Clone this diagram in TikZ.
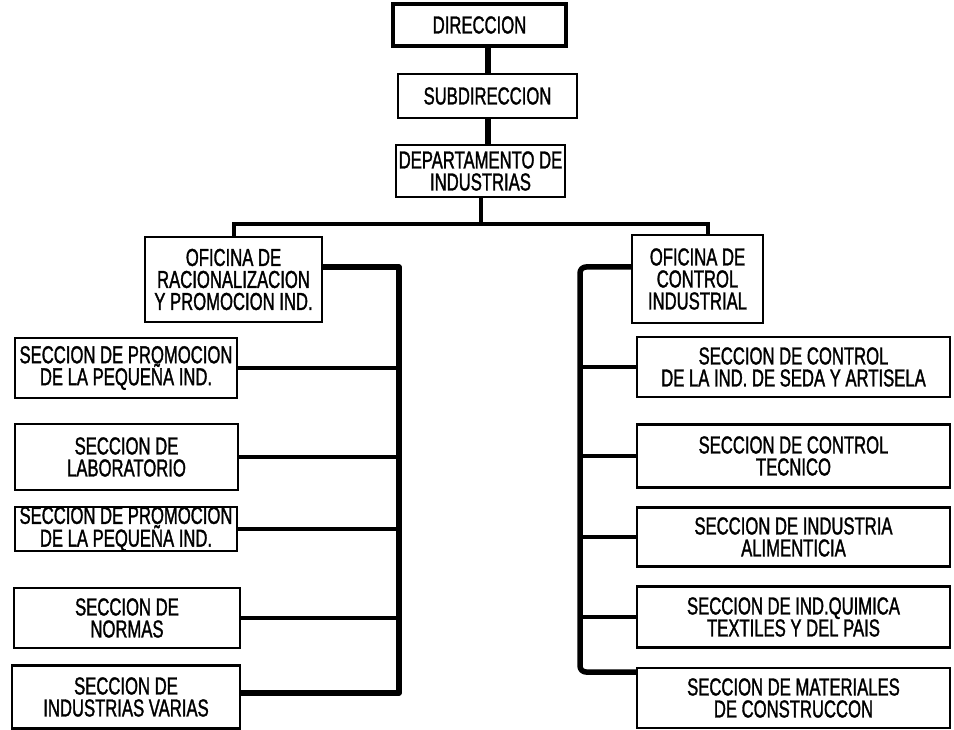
\documentclass[tikz,border=0pt]{standalone}
\usepackage{fontspec}
\newfontfamily\boxfont{Liberation Sans}[FakeStretch=0.68, FakeBold=1.3]
\begin{document}
\begin{tikzpicture}[x=1pt,y=-1pt]
\tikzset{
  box/.style={draw, line width=2.2pt, inner sep=0pt, align=center,
    font={\boxfont\fontsize{24.5}{22}\selectfont}},
  tight/.style={font={\boxfont\fontsize{24.5}{20}\selectfont}},
  link/.style={line width=4pt},
  bus/.style={line width=5.5pt, line join=round},
}
\useasboundingbox (0,0) rectangle (954,730);
\fill[white] (0,0) rectangle (954,730);
% top chain
\node[box, line width=4.5pt, minimum width=173pt, minimum height=42pt] (dir) at (479.5,25) {DIRECCION};
\node[box, minimum width=179pt, minimum height=44pt] (sub) at (487.5,96) {SUBDIRECCION};
\node[box, minimum width=169pt, minimum height=52pt] (dep) at (480.5,171) {DEPARTAMENTO DE\\INDUSTRIAS};
% offices
\node[box, minimum width=177pt, minimum height=85pt] (ofr) at (233.5,279.5) {OFICINA DE\\RACIONALIZACION\\Y PROMOCION IND.};
\node[box, minimum width=131pt, minimum height=88pt] (ofc) at (697.5,279) {OFICINA DE\\CONTROL\\INDUSTRIAL};
% left sections
\node[box, minimum width=222pt, minimum height=60pt] (s1) at (126,368) {SECCION DE PROMOCION\\DE LA PEQUEÑA IND.};
\node[box, minimum width=223pt, minimum height=66pt] (s2) at (126.5,457) {SECCION DE\\LABORATORIO};
\node[box, tight, minimum width=222pt, minimum height=40pt] (s3) at (126,529) {SECCION DE PROMOCION\\DE LA PEQUEÑA IND.};
\node[box, minimum width=226pt, minimum height=60pt] (s4) at (127,618) {SECCION DE\\NORMAS};
\node[box, minimum width=228pt, minimum height=63pt] (s5) at (126,697) {SECCION DE\\INDUSTRIAS VARIAS};
% right sections
\node[box, minimum width=313pt, minimum height=60pt] (r1) at (793.5,367) {SECCION DE CONTROL\\DE LA IND. DE SEDA Y ARTISELA};
\node[box, minimum width=313pt, minimum height=63pt] (r2) at (793.5,456) {SECCION DE CONTROL\\TECNICO};
\node[box, minimum width=313pt, minimum height=59pt] (r3) at (793.5,537) {SECCION DE INDUSTRIA\\ALIMENTICIA};
\node[box, minimum width=313pt, minimum height=61pt] (r4) at (793.5,617) {SECCION DE IND.QUIMICA\\TEXTILES Y DEL PAIS};
\node[box, minimum width=313pt, minimum height=60pt] (r5) at (793.5,698) {SECCION DE MATERIALES\\DE CONSTRUCCON};
% connectors top
\draw[link, line width=6pt] (dir.south -| sub.north) -- (sub.north);
\draw[link, line width=6pt] (sub.south) -- (sub.south |- dep.north);
\coordinate (hr) at (708,224);
\draw[link] (dep.south) -- (dep.south |- hr);
\draw[link] (ofr.north) |- (hr) -- (hr |- ofc.north);
% left bus
\coordinate (lt) at (399,267);
\coordinate (lc) at (399,693);
\draw[bus] (lt -| ofr.east) -- (lt) -- (lc) -- (lc -| s5.east);
\foreach \s in {s1,s2,s3,s4} \draw[link] (\s.east) -- (\s.east -| lc);
% right bus
\coordinate (rt) at (580,267);
\coordinate (rc) at (580,672);
\draw[bus, rounded corners=6pt] (rt -| ofc.west) -- (rt) -- (rc) -- (rc -| r5.west);
\foreach \s in {r1,r2,r3,r4} \draw[link] (\s.west) -- (\s.west -| rc);
\end{tikzpicture}
\end{document}
